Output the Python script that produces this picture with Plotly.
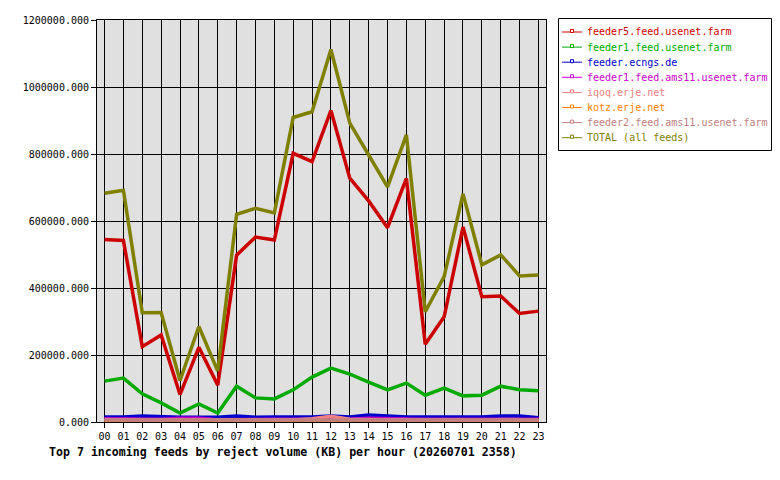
import plotly.graph_objects as go

hours = [f"{h:02d}" for h in range(24)]

feeder5 = [545000, 542000, 225000, 260000, 82000, 223000, 110000, 498000, 552000, 543000,
           802000, 777000, 930000, 728000, 660000, 580000, 727000, 232000, 314000, 582000,
           374000, 376000, 324000, 331000]
feeder1 = [122000, 131000, 84000, 57000, 27000, 54000, 27000, 107000, 72000, 69000,
           96000, 134000, 161000, 143000, 119000, 96000, 116000, 80000, 101000, 78000,
           80000, 107000, 96000, 93000]
ecngs = [15000, 15000, 18000, 15000, 14000, 14000, 14000, 18000, 14000, 15000,
         14000, 15000, 18000, 15000, 21000, 17000, 15000, 15000, 15000, 15000,
         15000, 18000, 18000, 13000]
ams11_1 = [10000, 10000, 9000, 8000, 11000, 11000, 7000, 8000, 9000, 8000,
           8000, 8000, 8000, 8000, 11000, 11000, 9000, 8000, 9000, 8000,
           8000, 8000, 8000, 8000]
iqoq = [6000, 6000, 6000, 6000, 6000, 6000, 5000, 6000, 6000, 6000,
        6000, 10000, 17000, 8000, 6000, 6000, 6000, 6000, 6000, 6000,
        6000, 6000, 6000, 5000]
kotz = [2000, 2000, 2000, 2000, 3000, 4000, 4000, 2000, 2000, 2000,
        2000, 2000, 2000, 2000, 3000, 2000, 2000, 2000, 2000, 2000,
        2000, 2000, 2000, 3000]
ams11_2 = [6000, 6000, 6000, 6000, 6000, 6000, 6000, 6000, 6000, 6000,
           6000, 6000, 6000, 6000, 6000, 6000, 6000, 6000, 6000, 6000,
           6000, 6000, 6000, 6000]
total = [683000, 692000, 326000, 327000, 124000, 285000, 152000, 620000, 638000, 624000,
         909000, 926000, 1112000, 892000, 797000, 702000, 857000, 329000, 434000, 681000,
         469000, 499000, 436000, 439000]

names = ["feeder5.feed.usenet.farm", "feeder1.feed.usenet.farm", "feeder.ecngs.de",
         "feeder1.feed.ams11.usenet.farm", "iqoq.erje.net", "kotz.erje.net",
         "feeder2.feed.ams11.usenet.farm", "TOTAL (all feeds)"]
values = [feeder5, feeder1, ecngs, ams11_1, iqoq, kotz, ams11_2, total]
colors = ["#cc0000", "#00aa00", "#0000cc", "#cc00cc", "#f08080", "#ff8000", "#c08080", "#808000"]

mono = "DejaVu Sans Mono"
W, H = 780, 480
L, R, T, B = 97, 546, 20, 422   # plot area in pixels
pw, ph = R - L, B - T


def px(x):
    return (x - L) / pw


def py(y):
    return (B - y) / ph


fig = go.Figure()
for name, vals, color in zip(names, values, colors):
    fig.add_trace(go.Scatter(x=hours, y=vals, mode="lines", name=name,
                             line=dict(color=color, width=3.5), showlegend=False))

# legend drawn as layout decoration
shapes = [dict(type="rect", xref="paper", yref="paper", x0=px(558.5), x1=px(771.5),
               y0=py(150.5), y1=py(18.5), line=dict(color="black", width=1), fillcolor="white")]
annotations = []
for i, (name, color) in enumerate(zip(names, colors)):
    yc = 32 + i * 15.1
    shapes.append(dict(type="line", xref="paper", yref="paper", x0=px(562), x1=px(582),
                       y0=py(yc), y1=py(yc), line=dict(color=color, width=1)))
    shapes.append(dict(type="rect", xref="paper", yref="paper", x0=px(570.5), x1=px(573.5),
                       y0=py(yc + 0.5), y1=py(yc - 2.5), line=dict(color=color, width=1),
                       fillcolor="white"))
    annotations.append(dict(text=name, xref="paper", yref="paper", x=px(585), y=py(yc),
                            xanchor="left", yanchor="middle", showarrow=False,
                            font=dict(family=mono, size=10, color=color)))

annotations.append(dict(text="<b>Top 7 incoming feeds by reject volume (KB) per hour (20260701 2358)</b>",
                        xref="paper", yref="paper", x=px(283), y=py(452), xanchor="center",
                        yanchor="middle", showarrow=False,
                        font=dict(family=mono, size=11.6, color="black")))

fig.update_layout(
    width=W, height=H,
    margin=dict(l=L, r=W - R, t=T, b=H - B),
    paper_bgcolor="white", plot_bgcolor="#e0e0e0",
    font=dict(family=mono, size=10, color="black"),
    showlegend=False,
    shapes=shapes,
    annotations=annotations,
)
fig.update_xaxes(type="category", range=[-0.4, 23.4], showgrid=True, gridcolor="black", gridwidth=1,
                 showline=True, linecolor="black", linewidth=1, mirror=True,
                 ticks="outside", ticklen=5, tickcolor="black", tickfont=dict(family=mono, size=10),
                 zeroline=False)
fig.update_yaxes(range=[0, 1200000], dtick=200000, tickformat=".3f", showgrid=True, gridcolor="black",
                 gridwidth=1, showline=True, linecolor="black", linewidth=1, mirror=True,
                 ticks="outside", ticklen=5, tickcolor="black", tickfont=dict(family=mono, size=10),
                 zeroline=False)

fig.write_html("out.html")
